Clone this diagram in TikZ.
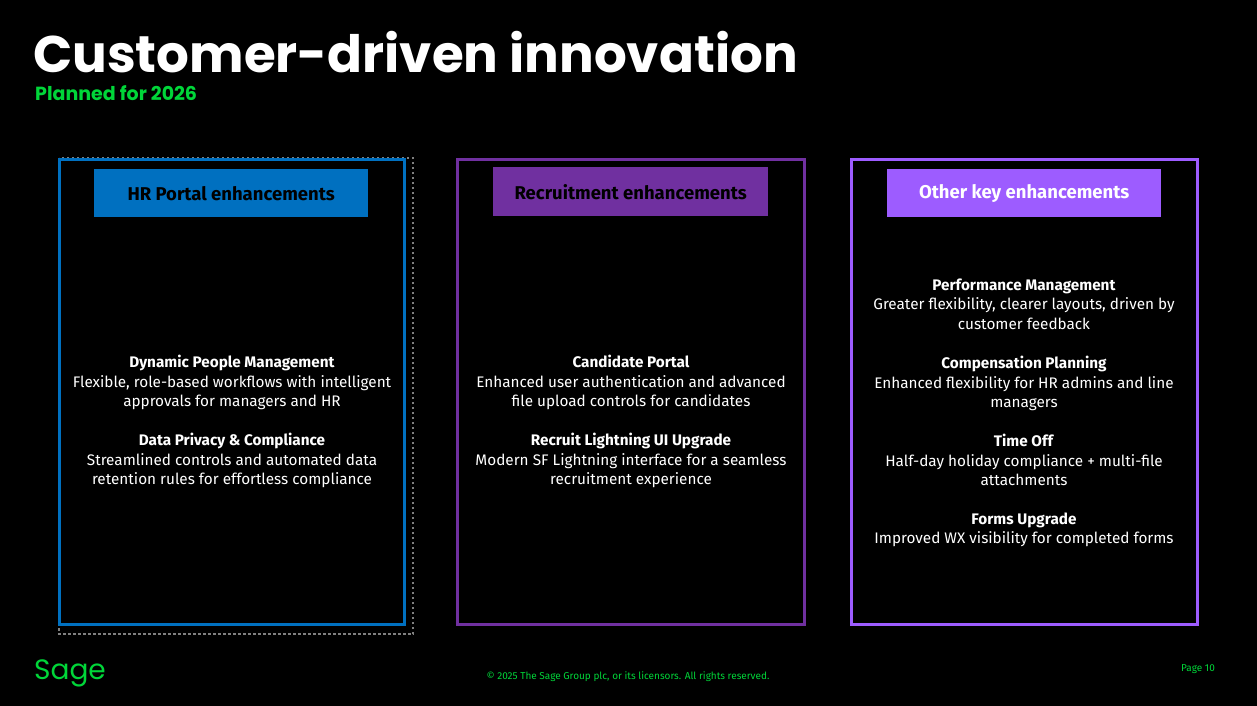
\documentclass[tikz,border=0pt]{standalone}
\usepackage{fontspec}
\setmainfont{Fira Sans}
\newfontfamily\headfont{Poppins}
\definecolor{hrblue}{HTML}{0070C0}
\definecolor{recpurple}{HTML}{7030A0}
\definecolor{otherviolet}{HTML}{9D5CFF}
\definecolor{sagegreen}{HTML}{00D639}
\begin{document}
\begin{tikzpicture}[x=1pt, y=-1pt,
  panel/.style={draw, line width=3pt},
  header/.style={anchor=north west, inner sep=0pt},
  htext/.style={font=\fontsize{18.5}{22}\selectfont\bfseries},
  item/.style={align=center, font=\fontsize{15.3}{19.5}\selectfont, text=white, anchor=north}
]
\fill[black] (0,0) rectangle (1257,706);
\useasboundingbox (0,0) rectangle (1257,706);

% title
\node[anchor=west, inner sep=0pt, text=white, font=\headfont\fontsize{51.5}{54}\selectfont\bfseries] (title) at (33,52) {Customer-driven innovation};
\node[anchor=west, inner sep=0pt, text=sagegreen, font=\headfont\fontsize{19}{22}\selectfont\bfseries] (subtitle) at (35,93) {Planned for 2026};

% panels
\draw[gray, dash pattern=on 2.5pt off 2.5pt, line width=1.5pt] (59,158) rectangle (413,634);
\draw[panel, hrblue] (59,159) rectangle (404,624);
\draw[panel, recpurple] (457,159) rectangle (804,624);
\draw[panel, otherviolet] (851,159) rectangle (1197,624);

\node[header, fill=hrblue, minimum width=274pt, minimum height=48pt] (hr) at (94,169) {};
\node[htext, text=black] at (hr.center) {HR Portal enhancements};
\node[header, fill=recpurple, minimum width=275pt, minimum height=49pt] (rec) at (493,167) {};
\node[htext, text=black] at (rec.center) {Recruitment enhancements};
\node[header, fill=otherviolet, minimum width=274pt, minimum height=48pt] (other) at (887,169) {};
\node[htext, text=white] at (other.center) {Other key enhancements};

% HR items
\node[item] (dpm) at (232,352) {\textbf{Dynamic People Management}\\Flexible, role-based workflows with intelligent\\approvals for managers and HR};
\node[item] (dpc) at (232,430) {\textbf{Data Privacy \& Compliance}\\Streamlined controls and automated data\\retention rules for effortless compliance};

% Recruitment items
\node[item] (cp) at (631,352) {\textbf{Candidate Portal}\\Enhanced user authentication and advanced\\file upload controls for candidates};
\node[item] (rlu) at (631,430) {\textbf{Recruit Lightning UI Upgrade}\\Modern SF Lightning interface for a seamless\\recruitment experience};

% Other items
\node[item] (pm) at (1024,275) {\textbf{Performance Management}\\Greater flexibility, clearer layouts, driven by\\customer feedback};
\node[item] (comp) at (1024,353) {\textbf{Compensation Planning}\\Enhanced flexibility for HR admins and line\\managers};
\node[item] (toff) at (1024,431) {\textbf{Time Off}\\Half-day holiday compliance + multi-file\\attachments};
\node[item] (forms) at (1024,509) {\textbf{Forms Upgrade}\\Improved WX visibility for completed forms};

% footer
\node[inner sep=0pt, text=sagegreen, font=\headfont\fontsize{28}{30}\selectfont] (logo) at (70,673) {Sage};
\node[inner sep=0pt, text=sagegreen, font=\fontsize{10}{12}\selectfont] (copy) at (628,677) {© 2025 The Sage Group plc, or its licensors. All rights reserved.};
\node[inner sep=0pt, text=sagegreen, font=\fontsize{10}{12}\selectfont] (page) at (1198,669) {Page 10};
\end{tikzpicture}
\end{document}
